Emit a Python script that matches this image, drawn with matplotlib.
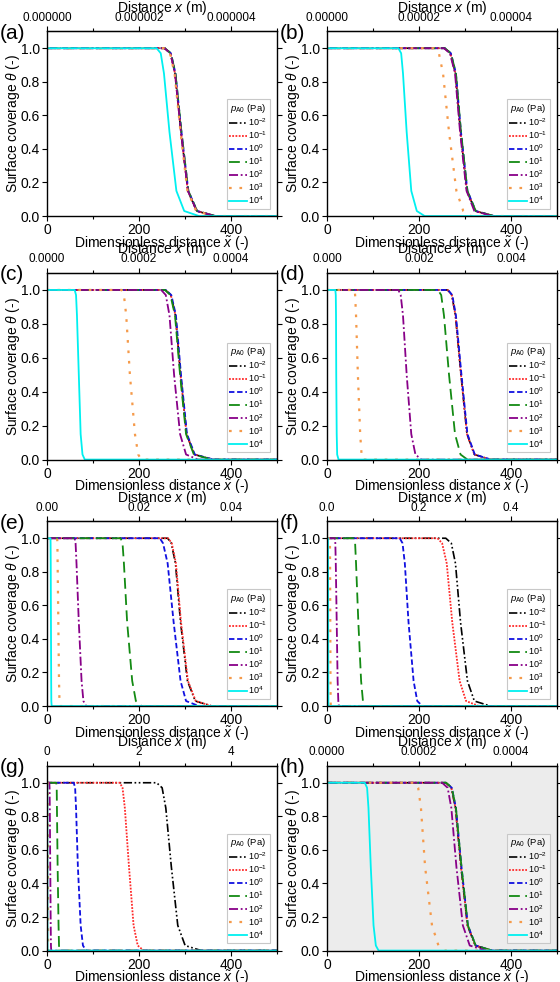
import matplotlib
matplotlib.use('Agg')
import matplotlib.pyplot as plt

plt.rcParams['font.family'] = ['Liberation Sans', 'DejaVu Sans']
plt.rcParams['mathtext.fontset'] = 'custom'
plt.rcParams['mathtext.rm'] = 'Liberation Sans'
plt.rcParams['mathtext.it'] = 'Liberation Sans:italic'

theta_levels = [1.0, 0.97, 0.85, 0.5, 0.15, 0.03, 0.0]
pressures = [r'$10^{-2}$', r'$10^{-1}$', r'$10^{0}$', r'$10^{1}$',
             r'$10^{2}$', r'$10^{3}$', r'$10^{4}$']
panel_tags = ['(a)', '(b)', '(c)', '(d)', '(e)', '(f)', '(g)', '(h)']
# metres per unit of dimensionless distance, one per panel
x_scale = [1e-8, 1e-7, 1e-6, 1e-5, 1e-4, 1e-3, 1e-2, 1e-6]
top_fmt = ['%.6f', '%.5f', '%.4f', '%.3f', '%.2f', '%.1f', '%.0f', '%.4f']

# x~ at theta_levels, rows = 10^-2 ... 10^4
front_a = [[255, 268, 278, 291, 306, 325, 365],
           [255, 268, 278, 291, 306, 325, 365],
           [256, 269, 279, 292, 307, 326, 366],
           [256, 269, 279, 292, 307, 326, 366],
           [255, 268, 278, 291, 306, 325, 365],
           [254, 267, 277, 290, 305, 324, 362],
           [238, 247, 254, 266, 281, 298, 330]]
front_b = [[255, 268, 279, 290, 304, 322, 362],
           [255, 268, 279, 290, 304, 322, 362],
           [256, 269, 280, 291, 305, 323, 363],
           [256, 269, 280, 291, 305, 323, 363],
           [254, 267, 278, 289, 303, 320, 360],
           [232, 243, 252, 265, 281, 296, 312],
           [155, 161, 165, 173, 183, 195, 212]]
front_c = [[257, 269, 279, 290, 303, 320, 360],
           [257, 269, 279, 290, 303, 320, 360],
           [258, 270, 280, 291, 304, 321, 362],
           [256, 268, 278, 289, 302, 319, 358],
           [248, 258, 266, 276, 289, 302, 328],
           [162, 167, 172, 180, 191, 198, 205],
           [60, 63, 65, 69, 73, 77, 82]]
front_d = [[262, 271, 279, 291, 304, 320, 355],
           [262, 271, 279, 291, 304, 320, 355],
           [263, 272, 280, 292, 305, 321, 356],
           [241, 248, 254, 265, 278, 290, 305],
           [155, 160, 165, 173, 183, 192, 205],
           [60, 61, 63, 67, 72, 75, 78],
           [18, 19, 19.5, 20, 21, 22, 25]]
front_e = [[262, 270, 279, 290, 305, 322, 358],
           [263, 271, 280, 291, 306, 323, 358],
           [245, 252, 262, 275, 290, 302, 330],
           [160, 164, 167, 174, 185, 193, 205],
           [60, 62, 64, 69, 75, 79, 85],
           [22, 22.5, 23, 24.5, 26, 27, 28],
           [7.5, 7.7, 8, 8.5, 9, 9.3, 10]]
front_f = [[258, 270, 279, 290, 305, 320, 355],
           [240, 250, 260, 272, 288, 302, 330],
           [158, 164, 169, 177, 188, 196, 207],
           [58, 61, 63, 68, 74, 78, 84],
           [17, 18, 19, 21, 23, 24.5, 26],
           [6, 6.3, 6.6, 7, 7.5, 7.8, 8],
           [2, 2.1, 2.2, 2.5, 2.8, 2.9, 3]]
front_g = [[238, 250, 258, 270, 284, 300, 335],
           [158, 164, 169, 178, 188, 197, 210],
           [58, 61, 63, 67, 73, 78, 85],
           [20, 21, 21.5, 23, 25, 26, 27],
           [5, 5.5, 6, 7, 8, 8.5, 9],
           [1.5, 1.6, 1.7, 2, 2.3, 2.4, 2.5],
           [0.5, 0.55, 0.6, 0.7, 0.8, 0.9, 1]]
front_h = [[258, 270, 279, 291, 305, 322, 358],
           [258, 270, 279, 291, 305, 322, 358],
           [259, 271, 280, 292, 306, 323, 359],
           [259, 271, 280, 292, 306, 323, 359],
           [250, 262, 270, 281, 295, 310, 345],
           [192, 198, 204, 213, 228, 242, 255],
           [82, 87, 90, 95, 101, 106, 112]]
fronts = [front_a, front_b, front_c, front_d, front_e, front_f, front_g, front_h]

colors = ['#000000', '#ff2a2a', '#1010e0', '#138a13', '#880088', '#f59a4a', '#00f0f0']
styles = [(0, (5, 1.5, 1, 1.5, 1, 1.5)), (0, (1, 0.8)), (0, (3, 1.5)), (0, (6, 3)),
          (0, (5, 1.5, 1, 1.5)), (0, (1.2, 3.5)), '-']
widths = [1.2, 1.3, 1.3, 1.3, 1.3, 1.6, 1.3]

fig = plt.figure(figsize=(5.6, 9.82), dpi=100)
lefts = [0.084, 0.584]
bottoms = [0.780, 0.532, 0.281, 0.032]
heights = [0.188, 0.190, 0.188, 0.188]

for k in range(8):
    r, c = divmod(k, 2)
    ax = fig.add_axes([lefts[c], bottoms[r], 0.411, heights[r]])
    if k == 7:
        ax.set_facecolor('#ececec')
    handles = []
    for j in range(7):
        xs = [0] + fronts[k][j] + [500]
        ys = [1.0] + theta_levels + [0.0]
        ln, = ax.plot(xs, ys, color=colors[j], ls=styles[j], lw=widths[j])
        handles.append(ln)
    ax.set_xlim(0, 500)
    ax.set_ylim(0, 1.1)
    ax.set_xticks([0, 200, 400])
    ax.set_xticks([100, 300, 500], minor=True)
    ax.set_yticks([0, 0.2, 0.4, 0.6, 0.8, 1.0])
    ax.tick_params(which='both', direction='out', width=0.8, labelsize=10,
                   right=True, pad=1.5)
    ax.tick_params(which='major', length=3.5)
    ax.tick_params(which='minor', length=2)
    for s in ax.spines.values():
        s.set_linewidth(1.0)
    ax.set_xlabel(r'Dimensionless distance $\tilde{x}$ (-)', fontsize=10, labelpad=-2)
    ax.set_ylabel(r'Surface coverage $\theta$ (-)', fontsize=10, labelpad=-1)

    f = x_scale[k]
    top = ax.secondary_xaxis('top', functions=(lambda x, f=f: x * f, lambda x, f=f: x / f))
    top.set_xticks([0, 200 * f, 400 * f])
    top.set_xticks([100 * f, 300 * f, 500 * f], minor=True)
    top.xaxis.set_major_formatter(matplotlib.ticker.FormatStrFormatter(top_fmt[k]))
    top.tick_params(which='both', direction='out', width=0.8, labelsize=8.5, pad=2)
    top.tick_params(which='major', length=3.5)
    top.tick_params(which='minor', length=2)
    top.set_xlabel(r'Distance $x$ (m)', fontsize=10, labelpad=0)

    leg = ax.legend(handles, pressures, loc='lower right', fontsize=6.5,
                    title=r'$p_{\mathrm{A0}}$ (Pa)', title_fontsize=6.8,
                    handlelength=2.0, handletextpad=0.1, labelspacing=0.15,
                    borderpad=0.3, borderaxespad=0.8, fancybox=False,
                    edgecolor='#c8c8c8', framealpha=1)
    leg.get_frame().set_linewidth(0.8)
    if k == 7:
        leg.get_frame().set_facecolor('#f2f2f2')
    ax.text(-0.205, 0.99, panel_tags[k], transform=ax.transAxes, fontsize=15,
            ha='left', va='center')

fig.savefig('out.png', dpi=100)
